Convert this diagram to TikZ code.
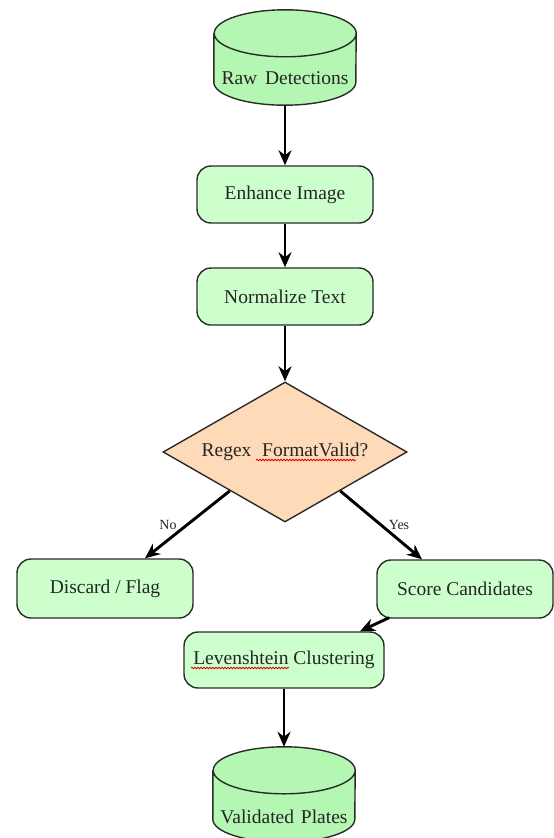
\documentclass[tikz,border=0pt]{standalone}
\usepackage{fontspec}
\setmainfont{Liberation Serif}
\usetikzlibrary{shapes.geometric,arrows.meta,calc,backgrounds,decorations.pathmorphing}

\definecolor{boxgreen}{HTML}{CCFFCC}
\definecolor{dbgreen}{HTML}{B3F7B3}
\definecolor{peach}{HTML}{FFDAB9}
\definecolor{edge}{HTML}{2B2B2B}
\definecolor{ink}{HTML}{262626}

\tikzset{
  x=1pt, y=1pt,
  every node/.style={font=\fontsize{19.5}{21}\selectfont, text=ink},
  stepbox/.style={draw=edge, line width=1.4pt, fill=boxgreen, rounded corners=14pt,
    minimum width=176pt, minimum height=57pt, inner sep=0pt},
  dbnode/.style={minimum width=142pt, minimum height=95pt, inner sep=0pt},
  decision/.style={diamond, draw=edge, line width=1.4pt, fill=peach,
    minimum width=244pt, minimum height=140pt, inner sep=0pt, aspect=1.74},
  flow/.style={draw=black, line width=2.9pt, -{Stealth[length=15pt,width=13pt]}},
  branch/.style={font=\fontsize{14}{15}\selectfont, inner sep=0pt},
  typo/.style={draw=red!85!black, line width=0.8pt, decorate,
    decoration={snake, amplitude=0.8pt, segment length=3pt}},
}

% database drum behind a (transparent) node of the same size
\newcommand\dbdrum[1]{%
  \draw[edge, line width=1.4pt, fill=dbgreen]
    ([yshift=-23.5pt]#1.north west) -- ([yshift=23pt]#1.south west)
    arc[start angle=180, end angle=360, x radius=71pt, y radius=23pt]
    -- ([yshift=-23.5pt]#1.north east)
    arc[start angle=0, end angle=360, x radius=71pt, y radius=23.5pt];
}

\begin{document}
\begin{tikzpicture}
\useasboundingbox (0,0) rectangle (554,-838);
\clip (0,0) rectangle (554,-838);

% nodes
\node[dbnode] (raw) at (285,-57.5)
  {\raisebox{-26.5pt}[0pt][0pt]{Raw\hspace{0.4em}Detections}};
\node[stepbox] (enh)  at (285,-194.5) {Enhance Image};
\node[stepbox] (norm) at (285,-296.5) {Normalize Text};
\node[decision] (chk) at (285,-452) {Regex\hspace{0.55em}FormatValid?};
\node[stepbox, minimum height=59pt] (dis) at (105,-588.5) {Discard / Flag};
\node[stepbox, minimum height=58pt] (score) at (465,-589) {Score Candidates};
\node[stepbox, minimum width=200pt, minimum height=56pt] (lev) at (284,-660)
  {Levenshtein Clustering};
\node[dbnode] (plates) at (284,-794.5)
  {\raisebox{-28.5pt}[0pt][0pt]{Validated\hspace{0.35em}Plates}};

\begin{scope}[on background layer]
  \dbdrum{raw}
  \dbdrum{plates}
\end{scope}

% spell-check marks under the flagged words
\draw[typo] ($(chk.center)+(-29,-8)$) -- ($(chk.center)+(71,-8)$);
\draw[typo] ($(lev.center)+(-93,-8)$) -- ($(lev.center)+(5,-8)$);

% connectors
\draw[flow] (raw.south) -- (enh.north);
\draw[flow] (enh.south) -- (norm.north);
\draw[flow] (norm.south) -- (chk.north);
\draw[flow] ($(chk.west)!0.55!(chk.south)$) -- ($(dis.north)+(40,0)$);
\draw[flow] ($(chk.east)!0.55!(chk.south)$) -- ($(score.north)+(-43,0)$);
\draw[flow] ($(score.south)+(-76,1)$) -- ($(lev.north)+(76,0)$);
\draw[flow] (lev.south) -- (plates.north);

% branch labels
\node[branch] (no)  at (168,-525) {No};
\node[branch] (yes) at (399,-525) {Yes};
\end{tikzpicture}
\end{document}
